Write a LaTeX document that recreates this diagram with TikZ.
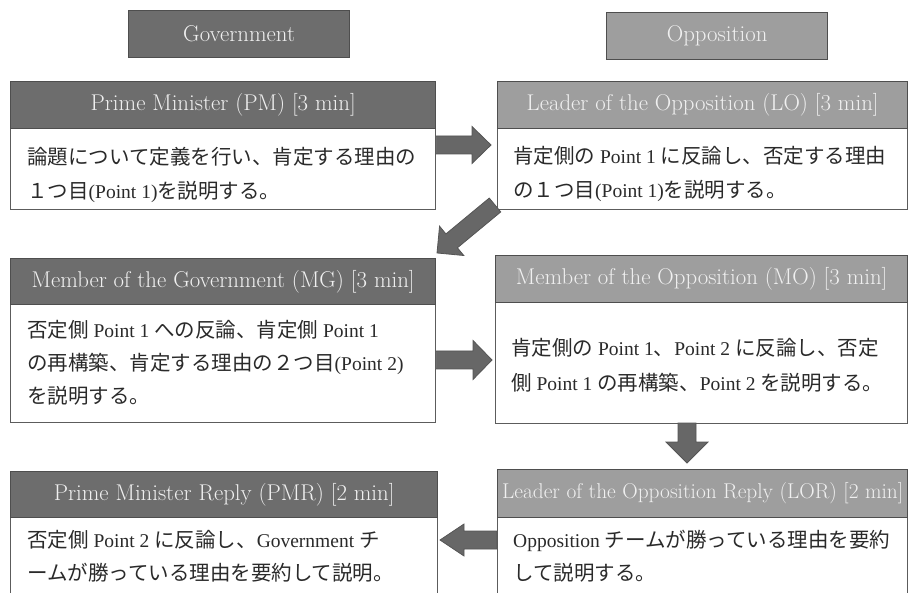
\documentclass[tikz,border=0pt]{standalone}
\usepackage{fontspec}
\newfontfamily\cjk{Noto Sans CJK JP}
\newfontfamily\lat{Liberation Serif}
\usetikzlibrary{calc}
\definecolor{hdrdark}{HTML}{6D6D6D}
\definecolor{hdrlight}{HTML}{9E9E9E}
\definecolor{edge}{HTML}{4E4E4E}
\definecolor{bodyedge}{HTML}{5C5C5C}
\definecolor{txt}{HTML}{2A2A2A}
\definecolor{arrowfill}{HTML}{676767}
\definecolor{arrowedge}{HTML}{555555}
\newcommand\J[1]{{\cjk\fontsize{20.5}{34}\selectfont #1}}
\newcommand\blockarrow[5]{%
  \path let \p1=(#1), \p2=(#2) in
    \pgfextra{\pgfmathsetmacro\baang{atan2(\y2-\y1,\x2-\x1)}%
              \pgfmathsetmacro\balen{veclen(\x2-\x1,\y2-\y1)}%
              \xdef\baang{\baang}\xdef\balen{\balen}};
  \begin{scope}[shift={(#1)},rotate=\baang]
    \filldraw[bigarrow] (0,-#3) -- (\balen-#5,-#3) -- (\balen-#5,-#4) -- (\balen,0)
      -- (\balen-#5,#4) -- (\balen-#5,#3) -- (0,#3) -- cycle;
  \end{scope}}
\tikzset{
  hdr/.style={draw=edge, line width=1.3pt, anchor=north west, inner sep=0pt,
    text=white!94!black, font=\fontsize{22.8}{26}\selectfont},
  hdrL/.style={hdr, fill=hdrdark},
  hdrR/.style={hdr, fill=hdrlight},
  bodybox/.style={draw=bodyedge, line width=1.3pt, fill=white, anchor=north west, inner sep=0pt},
  bodytext/.style={anchor=west, align=left, inner sep=0pt, text=txt,
    font=\lat\fontsize{19.5}{34}\selectfont},
  bigarrow/.style={fill=arrowfill, draw=arrowedge, line width=0.8pt},
}
\begin{document}
\begin{tikzpicture}[x=1pt,y=1pt]
\useasboundingbox (0,0) rectangle (910,-593);
\clip (0,0) rectangle (910,-593);
\fill[white] (0,0) rectangle (910,-593);

% team labels
\node[hdrL, minimum width=221pt, minimum height=47pt] (gov) at (128,-10) {Government};
\node[hdrR, minimum width=221pt, minimum height=47pt] (opp) at (606,-12) {Opposition};

% PM
\node[bodybox, minimum width=425pt, minimum height=81pt] (pmb) at (10,-128) {};
\node[hdrL, minimum width=425pt, minimum height=47pt] (pmh) at (10,-81) {Prime Minister (PM) [3 min]};
\node[bodytext] (pmt) at (27,-174.5) {\J{論題について定義を行い、肯定する理由の}\\\J{１つ目}(Point 1)\J{を説明する。}};

% LO
\node[bodybox, minimum width=410pt, minimum height=81pt] (lob) at (497,-128) {};
\node[hdrR, minimum width=410pt, minimum height=47pt] (loh) at (497,-81) {Leader of the Opposition (LO) [3 min]};
\node[bodytext] (lot) at (513,-174) {\J{肯定側の} Point 1 \J{に反論し、否定する理由}\\\J{の１つ目}(Point 1)\J{を説明する。}};

% MG
\node[bodybox, minimum width=425pt, minimum height=118pt] (mgb) at (10,-304) {};
\node[hdrL, minimum width=425pt, minimum height=46pt] (mgh) at (10,-258) {Member of the Government (MG) [3 min]};
\node[bodytext, font=\lat\fontsize{19.5}{33}\selectfont] (mgt) at (27,-363) {\J{否定側} Point 1 \J{への反論、肯定側} Point 1\\\J{の再構築、肯定する理由の２つ目}(Point 2)\\\J{を説明する。}};

% MO
\node[bodybox, minimum width=412pt, minimum height=121pt] (mob) at (495,-302) {};
\node[hdrR, minimum width=412pt, minimum height=47pt] (moh) at (495,-255) {Member of the Opposition (MO) [3 min]};
\node[bodytext, font=\lat\fontsize{19.5}{35}\selectfont] (mot) at (511,-365.5) {\J{肯定側の} Point 1\J{、}Point 2 \J{に反論し、否定}\\\J{側} Point 1 \J{の再構築、}Point 2 \J{を説明する。}};

% PMR
\node[bodybox, minimum width=427pt, minimum height=100pt] (pmrb) at (10,-517) {};
\node[hdrL, minimum width=427pt, minimum height=46pt] (pmrh) at (10,-471) {Prime Minister Reply (PMR) [2 min]};
\node[bodytext, font=\lat\fontsize{19.5}{33}\selectfont] (pmrt) at (27,-556.5) {\J{否定側} Point 2 \J{に反論し、}Government \J{チ}\\\J{ームが勝っている理由を要約して説明。}};

% LOR
\node[bodybox, minimum width=410pt, minimum height=100pt] (lorb) at (497,-517) {};
\node[hdrR, minimum width=410pt, minimum height=48pt, font=\fontsize{21.4}{25}\selectfont] (lorh) at (497,-469) {Leader of the Opposition Reply (LOR) [2 min]};
\node[bodytext, font=\lat\fontsize{19.5}{33}\selectfont] (lort) at (513,-556.5) {Opposition \J{チームが勝っている理由を要約}\\\J{して説明する。}};

% arrows
\coordinate (a1s) at (pmb.east |- 0,-145);
\coordinate (a1e) at (491,-145);
\coordinate (a2s) at (495,-205);
\coordinate (a2e) at (437,-253);
\coordinate (a3s) at (mgb.east |- 0,-360);
\coordinate (a3e) at (492,-360);
\coordinate (a4s) at (687,-423);
\coordinate (a4e) at (687,-463);
\coordinate (a5s) at (lorb.west |- 0,-540);
\coordinate (a5e) at (440,-540);
\blockarrow{a1s}{a1e}{9}{18.5}{19}
\blockarrow{a2s}{a2e}{9}{19}{19}
\blockarrow{a3s}{a3e}{9}{19.5}{19}
\blockarrow{a4s}{a4e}{9}{21}{21}
\blockarrow{a5s}{a5e}{9}{16}{24}
\end{tikzpicture}
\end{document}
